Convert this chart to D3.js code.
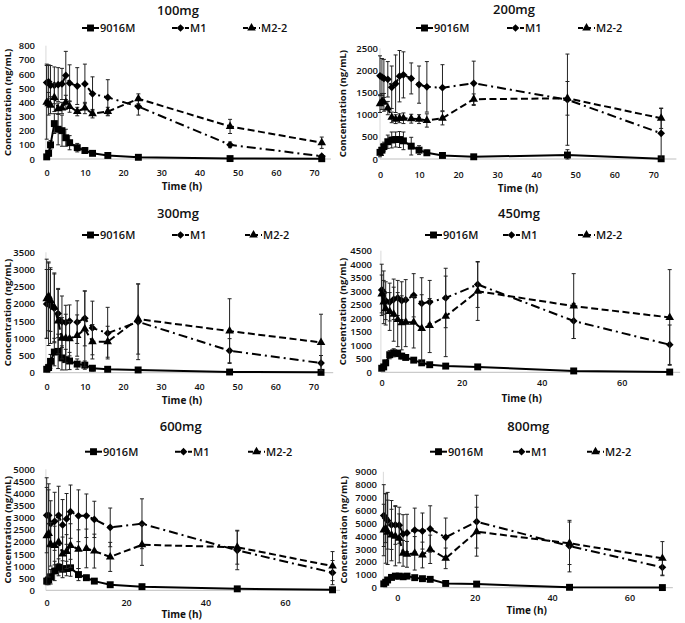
<!DOCTYPE html>
<html><head><meta charset="utf-8">
<script src="https://cdn.jsdelivr.net/npm/d3@7"></script>
<style>body{margin:0;background:#fff}svg{display:block}text{font-family:"Open Sans",sans-serif;fill:#111}</style>
</head><body><svg id="c" width="685" height="623"></svg>
<script>
// ---------- DATA ----------
const doseLabels = ["100mg", "200mg", "300mg", "450mg", "600mg", "800mg"];
const seriesNames = ["9016M", "M1", "M2-2"];
const times = [0, 0.5, 1, 2, 3, 4, 5, 6, 8, 10, 12, 16, 24, 48, 72];
const times800 = [-3.5, -3, -2.5, -1.5, -0.5, 0.5, 1.5, 2.5, 4.5, 6.5, 8.5, 12.5, 20.5, 44.5, 68.5];

const xTicks10 = [0, 10, 20, 30, 40, 50, 60, 70];
const xTicks20 = [0, 20, 40, 60];
const yTicks100 = [0, 100, 200, 300, 400, 500, 600, 700, 800];
const yTicks200 = [0, 500, 1000, 1500, 2000, 2500];
const yTicks300 = [0, 500, 1000, 1500, 2000, 2500, 3000, 3500];
const yTicks450 = [0, 500, 1000, 1500, 2000, 2500, 3000, 3500, 4000, 4500];
const yTicks600 = [0, 500, 1000, 1500, 2000, 2500, 3000, 3500, 4000, 4500, 5000];
const yTicks800 = [0, 1000, 2000, 3000, 4000, 5000, 6000, 7000, 8000, 9000];

const p100 = [15, 40, 100, 250, 210, 200, 150, 115, 80, 60, 40, 25, 12, 3, 2];
const p100sd = [10, 20, 30, 70, 110, 110, 60, 50, 30, 20, 12, 8, 5, 2, 2];
const m1_100 = [540, 545, 520, 520, 525, 530, 590, 535, 515, 530, 460, 435, 370, 100, 20];
const m1_100sd = [130, 120, 140, 130, 120, 110, 170, 130, 130, 140, 120, 125, 60, 20, 10];
const m2_100 = [400, 390, 380, 435, 355, 360, 400, 370, 335, 360, 320, 335, 425, 230, 115];
const m2_100sd = [260, 80, 60, 100, 40, 40, 50, 40, 30, 40, 30, 30, 35, 50, 40];

const p200 = [150, 200, 280, 390, 430, 440, 440, 410, 290, 200, 140, 80, 50, 90, 5];
const p200sd = [100, 120, 100, 150, 180, 170, 180, 200, 200, 100, 60, 30, 20, 120, 5];
const m1_200 = [1880, 1850, 1820, 1800, 1620, 1700, 1870, 1900, 1820, 1680, 1630, 1610, 1710, 1340, 580];
const m1_200sd = [450, 420, 430, 400, 480, 650, 580, 520, 350, 420, 570, 520, 500, 1030, 560];
const m2_200 = [1250, 1300, 1280, 1150, 940, 900, 920, 920, 910, 900, 870, 920, 1350, 1370, 920];
const m2_200sd = [200, 180, 200, 150, 120, 100, 100, 120, 100, 100, 150, 150, 120, 380, 230];

const p300 = [100, 150, 330, 600, 620, 430, 380, 340, 250, 220, 130, 100, 80, 20, 10];
const p300sd = [50, 100, 200, 400, 500, 350, 300, 250, 150, 120, 80, 50, 40, 10, 5];
const m1_300 = [2000, 1990, 1950, 1870, 1720, 1480, 1460, 1500, 1470, 1580, 1300, 1150, 1480, 640, 280];
const m1_300sd = [1000, 1200, 1100, 1000, 700, 750, 500, 470, 620, 800, 780, 750, 1100, 350, 220];
const m2_300 = [2150, 2220, 2100, 1900, 1500, 1000, 1000, 990, 1080, 1270, 900, 900, 1560, 1210, 880];
const m2_300sd = [1150, 1000, 900, 1000, 950, 600, 700, 500, 600, 1100, 500, 450, 1020, 940, 820];

const p450 = [150, 200, 350, 650, 720, 700, 600, 550, 450, 350, 280, 230, 200, 50, 10];
const p450sd = [50, 80, 100, 150, 150, 120, 100, 80, 60, 50, 40, 30, 30, 15, 5];
const m1_450 = [3050, 2950, 2650, 2600, 2700, 2750, 2650, 2680, 2850, 2550, 2600, 2750, 3250, 1900, 1020];
const m1_450sd = [950, 800, 700, 700, 750, 650, 700, 750, 800, 950, 800, 1100, 850, 650, 730];
const m2_450 = [2900, 2600, 2350, 2250, 2150, 1950, 1830, 1850, 1850, 1620, 1730, 2070, 3000, 2450, 2030];
const m2_450sd = [700, 800, 600, 700, 1000, 1000, 1000, 900, 950, 1250, 1000, 1490, 1080, 1200, 1770];

const p600 = [380, 430, 560, 800, 950, 870, 900, 930, 650, 520, 380, 230, 150, 60, 20];
const p600sd = [150, 200, 300, 400, 350, 350, 300, 350, 250, 100, 60, 40, 30, 20, 10];
const m1_600 = [3100, 3100, 2750, 2850, 3100, 2700, 2950, 3250, 3080, 3080, 2930, 2600, 2750, 1650, 730];
const m1_600sd = [1550, 1300, 950, 1200, 1200, 1050, 1050, 1100, 1070, 900, 750, 800, 1030, 800, 500];
const m2_600 = [2250, 2350, 1900, 1850, 2000, 1500, 1600, 1850, 1700, 1730, 1620, 1380, 1880, 1780, 1000];
const m2_600sd = [2000, 1800, 900, 800, 900, 700, 700, 900, 800, 800, 700, 600, 850, 700, 600];

const p800 = [300, 420, 600, 800, 900, 900, 850, 900, 780, 700, 650, 330, 280, 30, 10];
const p800sd = [100, 100, 150, 150, 150, 120, 100, 100, 100, 80, 80, 50, 50, 10, 5];
const m1_800 = [5600, 5400, 5200, 4870, 4870, 4850, 4170, 4250, 4480, 4400, 4560, 3910, 5130, 3230, 1580];
const m1_800sd = [2400, 1900, 2200, 1900, 1500, 1400, 1500, 1450, 1700, 1400, 1800, 1500, 2050, 2000, 650];
const m2_800 = [4480, 4600, 4300, 4090, 4000, 3830, 2670, 2590, 2670, 2540, 2980, 2280, 4350, 3450, 2280];
const m2_800sd = [2000, 2700, 2500, 2000, 2300, 1900, 1000, 1000, 1300, 1000, 1100, 800, 1900, 1650, 1300];

const panels = [
  {title: doseLabels[0], t: times, vals: [p100, m1_100, m2_100], sds: [p100sd, m1_100sd, m2_100sd], xTicks: xTicks10, yTicks: yTicks100},
  {title: doseLabels[1], t: times, vals: [p200, m1_200, m2_200], sds: [p200sd, m1_200sd, m2_200sd], xTicks: xTicks10, yTicks: yTicks200},
  {title: doseLabels[2], t: times, vals: [p300, m1_300, m2_300], sds: [p300sd, m1_300sd, m2_300sd], xTicks: xTicks10, yTicks: yTicks300},
  {title: doseLabels[3], t: times, vals: [p450, m1_450, m2_450], sds: [p450sd, m1_450sd, m2_450sd], xTicks: xTicks20, yTicks: yTicks450},
  {title: doseLabels[4], t: times, vals: [p600, m1_600, m2_600], sds: [p600sd, m1_600sd, m2_600sd], xTicks: xTicks20, yTicks: yTicks600},
  {title: doseLabels[5], t: times800, vals: [p800, m1_800, m2_800], sds: [p800sd, m1_800sd, m2_800sd], xTicks: xTicks20, yTicks: yTicks800}
];

// ---------- LAYOUT (pixels) ----------
const layout = [
  {x0:46.7, kx:3.82, xs:-0.2, xe:74.4, y0:159, yTop:45.7, tickR:35, titleX:178, titleY:10, legY:28, legX:[82,172,243], yLabX:7.5, xTickY:173, xTitleX:182, xTitleY:186},
  {x0:380, kx:3.905, xs:0, xe:75.9, y0:159, yTop:48.3, tickR:378, titleX:514, titleY:9.5, legY:28, legX:[416,507,578], yLabX:343, xTickY:175, xTitleX:518, xTitleY:188.5},
  {x0:46.7, kx:3.81, xs:-0.2, xe:75.2, y0:372.7, yTop:252.3, tickR:35, titleX:178, titleY:213.3, legY:235, legX:[82,172,245], yLabX:7.5, xTickY:387, xTitleX:182, xTitleY:400},
  {x0:381.7, kx:4, xs:-0.2, xe:74.6, y0:372.3, yTop:250.7, tickR:372, titleX:519, titleY:213.3, legY:235, legX:[425,503,578], yLabX:343, xTickY:383.3, xTitleX:521.7, xTitleY:398.5},
  {x0:46.7, kx:3.97, xs:-0.2, xe:73.9, y0:590.3, yTop:469.3, tickR:35, titleX:180.7, titleY:426.7, legY:451.7, legX:[85,175,248], yLabX:7.5, xTickY:602.5, xTitleX:181.7, xTitleY:614.5},
  {x0:397.3, kx:3.87, xs:-3.6, xe:71.2, y0:587.7, yTop:471.8, tickR:377, titleX:528.3, titleY:426.7, legY:451.7, legX:[430,513,587], yLabX:344, xTickY:597.7, xTitleX:526.7, xTitleY:610}
];

const styles = [
  {dash: null, legDash: null, sym: d3.symbolSquare, size: 48, rot: 0},
  {dash: "9,4,2,4", legDash: "5,3,2,3", sym: d3.symbolSquare, size: 30, rot: 45},
  {dash: "7,3.5", legDash: "5,3", sym: d3.symbolTriangle, size: 32, rot: 0}
];

const svg = d3.select("#c");

panels.forEach((P, pi) => {
  const L = layout[pi];
  const yMax = P.yTicks[P.yTicks.length - 1];
  const x = d3.scaleLinear().domain([0, 10]).range([L.x0, L.x0 + 10 * L.kx]);
  const y = d3.scaleLinear().domain([0, yMax]).range([L.y0, L.yTop]);
  const g = svg.append("g");

  // title
  g.append("text").attr("x", L.titleX).attr("y", L.titleY).attr("dy", "0.35em")
    .attr("text-anchor", "middle").style("font-size", "13px").style("font-weight", 600).text(P.title);

  // legend
  seriesNames.forEach((name, si) => {
    const lx = L.legX[si], ly = L.legY, st = styles[si];
    g.append("line").attr("x1", lx).attr("x2", lx + 17).attr("y1", ly).attr("y2", ly)
      .attr("stroke", "#000").attr("stroke-width", 2).attr("stroke-dasharray", st.legDash);
    g.append("path").attr("d", d3.symbol().type(st.sym).size(st.size)())
      .attr("transform", `translate(${lx + 8.5},${ly}) rotate(${st.rot})`).attr("fill", "#000");
    g.append("text").attr("x", lx + 18).attr("y", ly).attr("dy", "0.35em")
      .style("font-size", "11px").style("font-weight", 600).text(name);
  });

  // axis lines
  g.append("line").attr("x1", x(L.xs)).attr("x2", x(L.xs)).attr("y1", y(0)).attr("y2", y(yMax))
    .attr("stroke", "#d9d9d9").attr("stroke-width", 1);
  g.append("line").attr("x1", x(L.xs)).attr("x2", x(L.xe)).attr("y1", y(0)).attr("y2", y(0))
    .attr("stroke", "#bfbfbf").attr("stroke-width", 1);

  // y axis labels
  const ya = g.append("g").attr("transform", `translate(${L.tickR},0)`)
    .call(d3.axisLeft(y).tickValues(P.yTicks).tickSize(0).tickPadding(0).tickFormat(d3.format("d")));
  ya.select(".domain").remove();
  ya.selectAll("text").style("font-size", "9.5px").style("font-weight", 600).attr("fill", "#111")
    .style("font-family", '"Open Sans",sans-serif');

  // x axis labels
  const xa = g.append("g").attr("transform", `translate(0,${L.xTickY - 3.3})`)
    .call(d3.axisBottom(x).tickValues(P.xTicks).tickSize(0).tickPadding(0).tickFormat(d3.format("d")));
  xa.select(".domain").remove();
  xa.selectAll("text").style("font-size", "9px").style("font-weight", 600).attr("fill", "#111")
    .style("font-family", '"Open Sans",sans-serif');

  // axis titles
  g.append("text").attr("x", L.xTitleX).attr("y", L.xTitleY).attr("dy", "0.35em").attr("text-anchor", "middle")
    .style("font-size", "10px").style("font-weight", 700).text("Time (h)");
  g.append("text").attr("transform", `translate(${L.yLabX},${(y(0) + y(yMax)) / 2}) rotate(-90)`)
    .attr("dy", "0.35em").attr("text-anchor", "middle")
    .style("font-size", "9.5px").style("font-weight", 700).text("Concentration (ng/mL)");

  // series
  P.vals.forEach((vals, si) => {
    const st = styles[si];
    const sds = P.sds[si];
    const pts = vals.map((v, i) => ({t: P.t[i], v, sd: sds[i]}));
    const gs = g.append("g");
    // error bars
    pts.forEach(d => {
      const lo = Math.max(0, d.v - d.sd), hi = d.v + d.sd;
      const cx = x(d.t);
      gs.append("line").attr("x1", cx).attr("x2", cx).attr("y1", y(lo)).attr("y2", y(hi))
        .attr("stroke", "#222").attr("stroke-width", 1);
      [lo, hi].forEach(b => {
        gs.append("line").attr("x1", cx - 2).attr("x2", cx + 2).attr("y1", y(b)).attr("y2", y(b))
          .attr("stroke", "#222").attr("stroke-width", 1);
      });
    });
    gs.append("path").datum(pts)
      .attr("d", d3.line().x(d => x(d.t)).y(d => y(d.v)))
      .attr("fill", "none").attr("stroke", "#000").attr("stroke-width", 2)
      .attr("stroke-dasharray", st.dash);
    gs.selectAll("path.m").data(pts).join("path").attr("class", "m")
      .attr("d", d3.symbol().type(st.sym).size(st.size)())
      .attr("transform", d => `translate(${x(d.t)},${y(d.v)}) rotate(${st.rot})`)
      .attr("fill", "#000");
  });
});
</script>
</body></html>
